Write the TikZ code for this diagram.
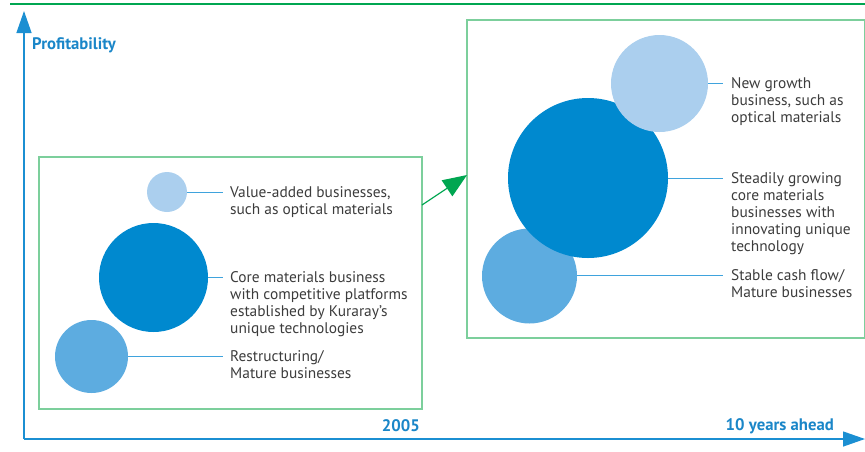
\documentclass[tikz,border=0pt]{standalone}
\usepackage{fontspec}
\setmainfont{PT Sans}
\usetikzlibrary{positioning,arrows.meta}
\definecolor{axisblue}{HTML}{1B8FD2}
\definecolor{lblblue}{HTML}{1A86C8}
\definecolor{leadblue}{HTML}{3FA3DD}
\definecolor{lightbub}{HTML}{ABCFEE}
\definecolor{darkbub}{HTML}{0089CF}
\definecolor{midbub}{HTML}{5DACE0}
\definecolor{topgreen}{HTML}{00A651}
\definecolor{boxgreen}{HTML}{7CCF9C}
\definecolor{txtgray}{HTML}{3C3C3C}

\begin{document}
\begin{tikzpicture}[x=1pt,y=-1pt,
	bub/.style={circle,inner sep=0pt,minimum size=#1},
	txt/.style={align=left,font=\fontsize{15.4}{17}\selectfont,text=txtgray,inner sep=0pt},
	lbl/.style={font=\fontsize{16.7}{17}\selectfont\bfseries,text=lblblue,inner sep=0pt},
	lead/.style={draw=leadblue,line width=1pt},
	frame/.style={draw=boxgreen,line width=1.2pt}]
	\useasboundingbox (0,0) rectangle (865,451);
	
	% axes
	\draw[topgreen,line width=1.3pt] (10,4)--(865,4);
	\coordinate (o) at (24,439);
	\coordinate (ytop) at (24,11);
	\coordinate (xend) at (865,439);
	\draw[axisblue,line width=1.3pt,-{Triangle[length=22pt,width=15pt]}] (o)--(ytop);
	\draw[axisblue,line width=1.3pt,-{Triangle[length=22pt,width=15pt]}] (o)--(xend);
	\node[lbl,anchor=west] (profit) at (32,45) {Profitability};
	\node[lbl,anchor=east] (now) at (420,426) {2005};
	\node[lbl,anchor=east] (later) at (834,426) {10 years ahead};
	
	% the two frames and the arrow between them
	\draw[frame] (39,157) rectangle (422,409);
	\draw[frame] (467,20) rectangle (864.4,338);
	\coordinate (go) at (422,205);
	\coordinate (arrive) at (467,175);
	\draw[topgreen,line width=1.2pt,-{Triangle[length=24pt,width=19pt]}] (go)--(arrive);
	
	% 2005
	\node[bub=40pt,fill=lightbub] (vadd) at (167,192) {};
	\node[bub=109pt,fill=darkbub] (core) at (153.5,277.5) {};
	\node[bub=73pt,fill=midbub] (restr) at (91.5,356.5) {};
	\foreach \b/\y in {vadd/192,core/277.5,restr/356.5}
	\coordinate (\b-end) at (223,\y);
	\foreach \b in {vadd,core,restr}
	\draw[lead] (\b.east)--(\b-end);
	\node[txt,above right=6pt and 7pt of vadd-end,anchor=north west] (vaddtxt) {Value-added businesses,\\such as optical materials};
	\node[txt,above right=6pt and 7pt of core-end,anchor=north west] (coretxt) {Core materials business\\with competitive platforms\\established by Kuraray’s\\unique technologies};
	\node[txt,above right=6pt and 7pt of restr-end,anchor=north west] (restrtxt) {Restructuring/\\Mature businesses};
	
	% 10 years ahead
	\node[bub=95pt,fill=midbub] (cash) at (529.5,276) {};
	\node[bub=160pt,fill=darkbub] (grow) at (588,178) {};
	\node[bub=97pt,fill=lightbub] (new) at (659.5,83.5) {};
	\foreach \b/\y in {new/83.5,grow/178,cash/275}
	\coordinate (\b-end) at (723,\y);
	\foreach \b in {new,grow,cash}
	\draw[lead] (\b.east |- \b-end)--(\b-end);
	\node[txt,above right=6pt and 8pt of new-end,anchor=north west] (newtxt) {New growth\\business, such as\\optical materials};
	\node[txt,above right=6pt and 8pt of grow-end,anchor=north west] (growtxt) {Steadily growing\\core materials\\businesses with\\innovating unique\\technology};
	\node[txt,above right=6pt and 8pt of cash-end,anchor=north west] (cashtxt) {Stable cash flow/\\Mature businesses};
\end{tikzpicture}
\end{document}
